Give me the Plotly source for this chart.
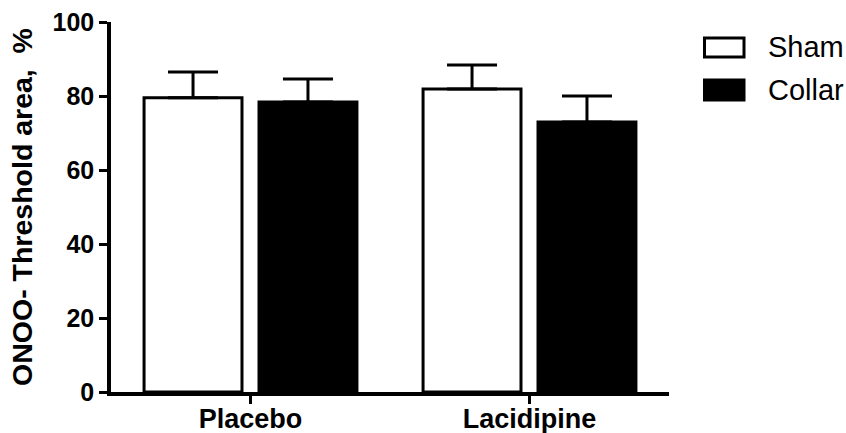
import plotly.graph_objects as go

categories = ["Placebo", "Lacidipine"]
series_names = ["Sham", "Collar"]
sham_values = [79.5, 81.9]
sham_errors = [7.0, 6.5]
collar_values = [78.4, 73.0]
collar_errors = [6.2, 7.0]
y_ticks = [0, 20, 40, 60, 80, 100]
y_title = "ONOO- Threshold area,  %"

fig = go.Figure()
fig.add_trace(go.Bar(
    x=categories, y=sham_values, name=series_names[0],
    marker=dict(color="white", line=dict(color="black", width=3)),
    error_y=dict(type="data", symmetric=False, array=sham_errors,
                 arrayminus=[0] * len(sham_errors), color="black", thickness=3, width=25),
    showlegend=False,
))
fig.add_trace(go.Bar(
    x=categories, y=collar_values, name=series_names[1],
    marker=dict(color="black", line=dict(color="black", width=3)),
    error_y=dict(type="data", symmetric=False, array=collar_errors,
                 arrayminus=[0] * len(collar_errors), color="black", thickness=3, width=25),
    showlegend=False,
))

fam = "Liberation Sans, Arial, sans-serif"
fig.update_layout(
    width=846, height=433,
    margin=dict(l=111, r=177, t=22, b=41),
    paper_bgcolor="white", plot_bgcolor="white",
    barmode="group", bargap=0.176, bargroupgap=0.148,
    font=dict(family=fam, color="black"),
    xaxis=dict(
        range=[-0.5, 1.5], showline=True, linecolor="black", linewidth=3.5,
        ticks="outside", ticklen=8, tickwidth=3, tickcolor="black",
        tickfont=dict(size=27, family=fam, weight="bold"),
        ticklabelstandoff=-8, automargin=False,
        showgrid=False, zeroline=False,
    ),
    yaxis=dict(
        range=[0, 100], tickvals=y_ticks, showline=True, linecolor="black", linewidth=3.5,
        ticks="outside", ticklen=8, tickwidth=3, tickcolor="black",
        tickfont=dict(size=25, family=fam, weight="bold"),
        showgrid=False, zeroline=False, automargin=False,
        title=dict(text=y_title, standoff=13,
                   font=dict(size=28.5, family=fam, weight="bold")),
    ),
)

# custom legend
plot_w = 846 - 111 - 177
plot_h = 433 - 22 - 41
def px(xp):
    return (xp - 111) / plot_w
def py(yp):
    return (392 - yp) / plot_h

legend_rows = [(series_names[0], "white", 38, 57, 47), (series_names[1], "black", 80, 100, 90)]
for name, fill, y0, y1, yc in legend_rows:
    fig.add_shape(type="rect", xref="paper", yref="paper",
                  x0=px(704.5), x1=px(744), y0=py(y1), y1=py(y0),
                  fillcolor=fill, line=dict(color="black", width=3))
    fig.add_annotation(xref="paper", yref="paper", x=px(766), y=py(yc),
                       text=name, showarrow=False, xanchor="left", yanchor="middle",
                       font=dict(size=29, family=fam, color="black"))

fig.write_html("out.html")
